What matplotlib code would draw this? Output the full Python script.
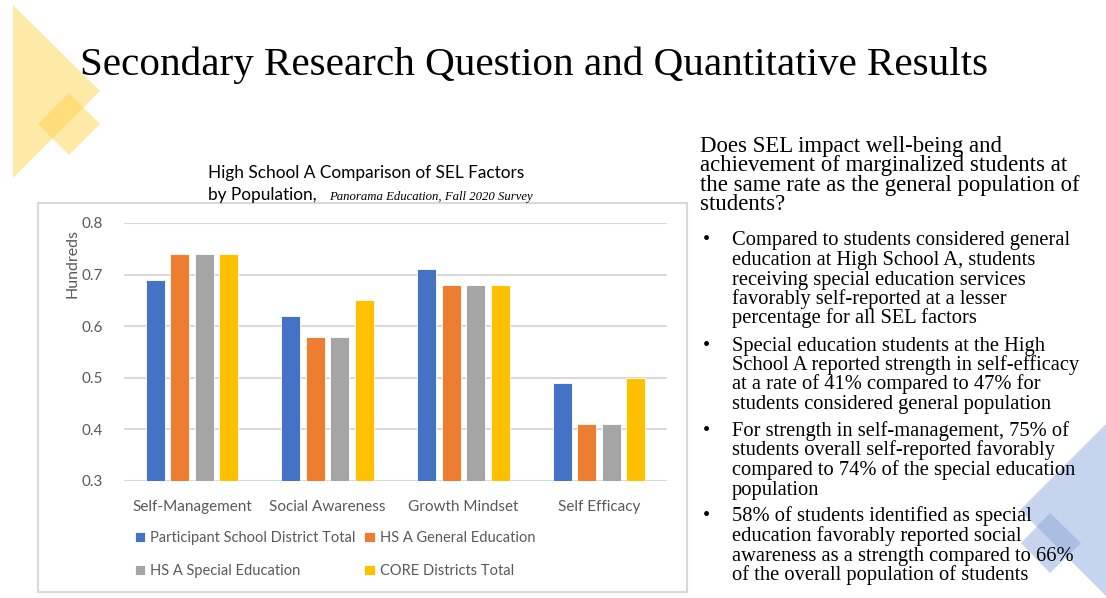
import matplotlib.pyplot as plt
from matplotlib.patches import Polygon, Rectangle
import numpy as np

# SEL factor results by population (fraction favorable, axis shown in hundreds)
categories = ["Self-Management", "Social Awareness", "Growth Mindset", "Self Efficacy"]
district_total = [0.69, 0.62, 0.71, 0.49]
general_ed = [0.74, 0.58, 0.68, 0.41]
special_ed = [0.74, 0.58, 0.68, 0.41]
core_total = [0.74, 0.65, 0.68, 0.50]
series_names = ["Participant School District Total", "HS A General Education",
                "HS A Special Education", "CORE Districts Total"]
series_colors = ["#4472C4", "#ED7D31", "#A5A5A5", "#FFC000"]
y_ticks = [0.3, 0.4, 0.5, 0.6, 0.7, 0.8]

slide_title = "Secondary Research Question and Quantitative Results"
chart_title = "High School A Comparison of SEL Factors"
chart_title_2 = "by Population,"
chart_source = "Panorama Education, Fall 2020 Survey"

question = [
    "Does SEL impact well-being and",
    "achievement of marginalized students at",
    "the same rate as the general population of",
    "students?",
]
bullets = [
    ["Compared to students considered general",
     "education at High School A, students",
     "receiving special education services",
     "favorably self-reported at a lesser",
     "percentage for all SEL factors"],
    ["Special education students at the High",
     "School A reported strength in self-efficacy",
     "at a rate of 41% compared to 47% for",
     "students considered general population"],
    ["For strength in self-management, 75% of",
     "students overall self-reported favorably",
     "compared to 74% of the special education",
     "population"],
    ["58% of students identified as special",
     "education favorably reported social",
     "awareness as a strength compared to 66%",
     "of the overall population of students"],
]

W, H = 1106, 598
SERIF = "Liberation Serif"
SANS = "Lato"
GRAY_TXT = "#595959"

fig = plt.figure(figsize=(W / 100, H / 100), dpi=100)

# slide layer in pixel coordinates
bg = fig.add_axes([0, 0, 1, 1])
bg.set_xlim(0, W)
bg.set_ylim(H, 0)
bg.axis("off")

# decorative shapes
bg.add_patch(Polygon([(13, 5), (100, 91), (13, 178)], closed=True,
                     facecolor="#FFD54F", alpha=0.5, lw=0))
bg.add_patch(Polygon([(38, 124), (69, 93), (100, 124), (69, 155)], closed=True,
                     facecolor="#FFD54F", alpha=0.5, lw=0))
bg.add_patch(Polygon([(1020, 510), (1106, 424), (1108, 424), (1108, 598)], closed=True,
                     facecolor="#8FAADC", alpha=0.5, lw=0))
bg.add_patch(Polygon([(1021, 543), (1050, 513), (1081, 543), (1050, 573)], closed=True,
                     facecolor="#8FAADC", alpha=0.5, lw=0))

bg.text(80, 75, slide_title, fontsize=29.6, family=SERIF, color="black", va="baseline")

# chart frame
bg.add_patch(Rectangle((38, 203), 649, 389, facecolor="none", edgecolor="#D9D9D9", lw=1.5))
bg.text(208, 178, chart_title, fontsize=12.4, family=SANS, color="black", va="baseline")
bg.text(208, 200, chart_title_2, fontsize=12.4, family=SANS, color="black", va="baseline")
bg.text(329, 200, chart_source, fontsize=9.2, family=SERIF, style="italic",
        color="black", va="baseline")

# right-hand text
y = 152
for line in question:
    bg.text(700, y, line, fontsize=16.4, family=SERIF, va="baseline")
    y += 19.5
y += 15.5
for para in bullets:
    bg.text(703, y, "\u2022", fontsize=14.8, family=SERIF, va="baseline")
    for line in para:
        bg.text(732, y, line, fontsize=14.8, family=SERIF, va="baseline")
        y += 19.5
    y += 7.5

# bar chart
left, right, top, bottom = 124, 667, 223, 481
ax = fig.add_axes([left / W, 1 - bottom / H, (right - left) / W, (bottom - top) / H])
ax.patch.set_alpha(0)

x = np.arange(len(categories))
slot = 0.18
width = 0.14
values = [district_total, general_ed, special_ed, core_total]
handles = []
for i, (vals, name, color) in enumerate(zip(values, series_names, series_colors)):
    offs = (i - 1.5) * slot
    h = ax.bar(x + offs, np.array(vals) - 0.3, width, bottom=0.3, color=color,
               edgecolor="white", linewidth=0.6, label=name, zorder=3)
    handles.append(h)

ax.set_xlim(-0.5, len(categories) - 0.5)
ax.set_ylim(0.3, 0.8)
ax.set_yticks(y_ticks)
ax.set_yticklabels([f"{t:.1f}" for t in y_ticks])
ax.set_xticks(x)
ax.set_xticklabels(categories)
for s in ax.spines.values():
    s.set_visible(False)
ax.grid(axis="y", color="#D9D9D9", lw=1.5, zorder=0)
ax.tick_params(axis="both", length=0, colors=GRAY_TXT, labelsize=11)
ax.tick_params(axis="y", pad=15)
ax.tick_params(axis="x", pad=14)
for lbl in ax.get_xticklabels() + ax.get_yticklabels():
    lbl.set_family(SANS)

bg.text(73, 263, "Hundreds", rotation=90, fontsize=11.5, family=SANS, color=GRAY_TXT,
        ha="center", va="center")

order = [0, 2, 1, 3]
leg = fig.legend([handles[k] for k in order], [series_names[k] for k in order],
                 ncol=2, loc="upper left", bbox_to_anchor=(135 / W, 1 - 531 / H),
                 frameon=False, prop={"family": SANS, "size": 10.5},
                 handlelength=0.7, handleheight=0.7, handletextpad=0.35,
                 columnspacing=0.6, labelspacing=1.3, borderpad=0, borderaxespad=0)
for t in leg.get_texts():
    t.set_color(GRAY_TXT)

fig.savefig("out.png", dpi=100)
